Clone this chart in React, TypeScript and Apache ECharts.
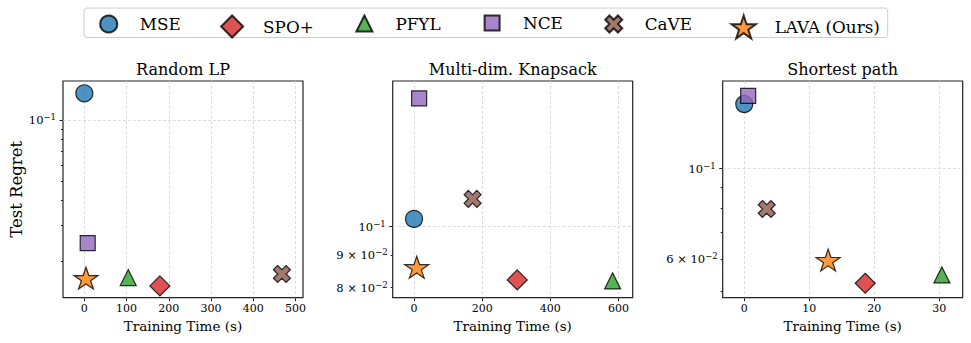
import React, { useEffect, useRef } from 'react';
import * as echarts from 'echarts';

// ---------- data ----------
const methods = ['MSE', 'SPO+', 'PFYL', 'NCE', 'CaVE', 'LAVA (Ours)'];
const panelTitles = ['Random LP', 'Multi-dim. Knapsack', 'Shortest path'];

const randomLpTime = [0, 179, 104, 8, 468, 4];
const randomLpRegret = [0.1358, 0.0151, 0.0166, 0.0246, 0.0173, 0.0165];

const knapsackTime = [0, 303, 583, 15, 172, 8];
const knapsackRegret = [0.1029, 0.0823, 0.082, 0.16, 0.1107, 0.0862];

const shortestPathTime = [0, 18.6, 30.4, 0.6, 3.45, 12.9];
const shortestPathRegret = [0.1438, 0.0524, 0.0549, 0.1505, 0.0796, 0.0597];

const randomLpXTicks = [0, 100, 200, 300, 400, 500];
const knapsackXTicks = [0, 200, 400, 600];
const shortestPathXTicks = [0, 10, 20, 30];

const randomLpXRange = [-50.5, 518];
const knapsackXRange = [-62.6, 642];
const shortestPathXRange = [-3.32, 33.6];

const randomLpYRange = [0.0132, 0.1563];
const knapsackYRange = [0.0771, 0.1705];
const shortestPathYRange = [0.0483, 0.1637];

const yMajorTicks = [0.1];
const randomLpYMinor = [0.02, 0.03, 0.04, 0.05, 0.06, 0.07, 0.08, 0.09];
const randomLpYMinorLabels: number[] = [];
const knapsackYMinor = [0.08, 0.09];
const knapsackYMinorLabels = [0.08, 0.09];
const shortestPathYMinor = [0.05, 0.06, 0.07, 0.08, 0.09];
const shortestPathYMinorLabels = [0.06];

// ---------- style / layout ----------
const FONT = 'DejaVu Serif';
const colors = ['#1f77b4', '#d62728', '#2ca02c', '#9467bd', '#8c564b', '#ff7f0e'];
const DIAMOND_PATH = 'path://M0 -1L1 0L0 1L-1 0Z';
const TRIANGLE_PATH = 'path://M0 -1L1 1L-1 1Z';
const SQUARE_PATH = 'path://M-1 -1L1 -1L1 1L-1 1Z';
const X_PATH = 'path://M-1 -2L0 -1L1 -2L2 -1L1 0L2 1L1 2L0 1L-1 2L-2 1L-1 0L-2 -1Z';
const STAR_PATH =
  'path://M0 -100L22.45 -30.9L95.1 -30.9L36.33 11.8L58.8 80.9L0 38.2L-58.8 80.9L-36.33 11.8L-95.1 -30.9L-22.45 -30.9Z';
const symbols = ['circle', DIAMOND_PATH, TRIANGLE_PATH, SQUARE_PATH, X_PATH, STAR_PATH];
const symbolSizes: any[] = [17, 20, 16, 15, 17, [24, 23]];
const legendIconSizes = [17, 22, 16, 15, 17, 23];
const legendIconWidths = [17, 22, 16, 15, 17, 24.2];
const legendCenters = [108.3, 231.7, 364, 491.7, 613.3, 743.3];
const LEGEND_CY = 23;

const gridLefts = [63, 392.7, 722.7];
const GRID_TOP = 81;
const GRID_W = 240;
const GRID_H = 216.7;

const fmtLog = (v: number) => {
  const val = Math.pow(10, v);
  const e = Math.floor(Math.log10(val) + 1e-9);
  const m = Math.round(val / Math.pow(10, e));
  const exp = String(e).replace('-', '\u2212');
  return m === 1 ? `{a|10}{b|${exp}}` : `{a|${m} \u00D7 10}{b|${exp}}`;
};
const tickRich = {
  a: { fontFamily: FONT, fontSize: 11.5, color: '#000', lineHeight: 15 },
  b: { fontFamily: FONT, fontSize: 8.5, color: '#000', lineHeight: 9, verticalAlign: 'top' },
};

const panels = [
  { time: randomLpTime, regret: randomLpRegret, xTicks: randomLpXTicks, xRange: randomLpXRange, yRange: randomLpYRange, minor: randomLpYMinor, minorLabels: randomLpYMinorLabels },
  { time: knapsackTime, regret: knapsackRegret, xTicks: knapsackXTicks, xRange: knapsackXRange, yRange: knapsackYRange, minor: knapsackYMinor, minorLabels: knapsackYMinorLabels },
  { time: shortestPathTime, regret: shortestPathRegret, xTicks: shortestPathXTicks, xRange: shortestPathXRange, yRange: shortestPathYRange, minor: shortestPathYMinor, minorLabels: shortestPathYMinorLabels },
];

function buildOption() {
  const L = Math.log10;
  const grid: any[] = [];
  const xAxis: any[] = [];
  const yAxis: any[] = [];
  const series: any[] = [];
  const graphic: any[] = [];
  const tickLine = { color: '#222', width: 1 };
  const gridLine = { color: '#d4d4d4', width: 0.8, type: [3, 2] };
  const labelStyle = { fontFamily: FONT, fontSize: 11, color: '#000' };

  panels.forEach((p, i) => {
    grid.push({
      left: gridLefts[i], top: GRID_TOP, width: GRID_W, height: GRID_H,
      show: true, borderColor: '#222', borderWidth: 1.2, backgroundColor: 'transparent',
    });
    xAxis.push({
      type: 'value', gridIndex: i, min: p.xRange[0], max: p.xRange[1],
      axisLine: { show: false },
      axisTick: { show: true, length: 3.5, lineStyle: tickLine, customValues: p.xTicks },
      axisLabel: { ...labelStyle, margin: 5, customValues: p.xTicks },
      splitLine: { show: true, lineStyle: gridLine },
      name: 'Training Time (s)', nameLocation: 'middle', nameGap: 20,
      nameTextStyle: { fontFamily: FONT, fontSize: 13.5, color: '#000' },
    });
    // data axis (log scale)
    yAxis.push({
      type: 'log', logBase: 10, gridIndex: i, min: p.yRange[0], max: p.yRange[1], show: false,
      splitLine: { show: false },
    });
    // major ticks
    yAxis.push({
      type: 'value', gridIndex: i, position: 'left', min: L(p.yRange[0]), max: L(p.yRange[1]),
      axisLine: { show: false },
      axisTick: { show: true, length: 3.5, lineStyle: tickLine, customValues: yMajorTicks.map(L) },
      axisLabel: { margin: 7, customValues: yMajorTicks.map(L), formatter: fmtLog, rich: tickRich },
      splitLine: { show: true, lineStyle: gridLine },
      ...(i === 0
        ? {
            name: 'Test Regret', nameLocation: 'middle', nameGap: 38,
            nameTextStyle: { fontFamily: FONT, fontSize: 16.5, color: '#000' },
          }
        : {}),
    });
    // minor ticks
    yAxis.push({
      type: 'value', gridIndex: i, position: 'left', min: L(p.yRange[0]), max: L(p.yRange[1]),
      axisLine: { show: false },
      axisTick: { show: true, length: 2, lineStyle: tickLine, customValues: p.minor.map(L) },
      axisLabel: p.minorLabels.length
        ? { margin: 5, customValues: p.minorLabels.map(L), formatter: fmtLog, rich: tickRich }
        : { show: false },
      splitLine: { show: false },
    });
    methods.forEach((m, k) => {
      series.push({
        type: 'scatter', name: m, xAxisIndex: i, yAxisIndex: i * 3,
        data: [[p.time[k], p.regret[k]]],
        symbol: symbols[k], symbolSize: symbolSizes[k], symbolKeepAspect: true,
        itemStyle: { color: colors[k], borderColor: '#000', borderWidth: 1.2, opacity: 0.8 },
        emphasis: { disabled: true },
        z: 3,
      });
    });
    graphic.push({
      type: 'text', x: gridLefts[i] + GRID_W / 2, y: 69,
      style: { text: panelTitles[i], fontFamily: FONT, fontSize: 16, fill: '#000', textAlign: 'center', textVerticalAlign: 'middle' },
    });
  });

  graphic.push({
    type: 'rect', z: -1, shape: { x: 84, y: 8, width: 803.7, height: 29.5, r: 3 },
    style: { fill: '#fff', stroke: '#cccccc', lineWidth: 1 },
  });

  const legend = methods.map((m, k) => ({
    data: [m],
    left: legendCenters[k] - legendIconWidths[k] / 2 - 0.6,
    top: LEGEND_CY - 8.5,
    padding: 0,
    itemWidth: 52,
    itemHeight: legendIconSizes[k],
    symbolKeepAspect: true,
    textStyle: { fontFamily: FONT, fontSize: 16.8, color: '#000', lineHeight: 17 },
    selectedMode: false,
  }));

  return {
    animation: false,
    backgroundColor: '#fff',
    grid, xAxis, yAxis, series, graphic, legend,
  };
}

export default function App() {
  const ref = useRef<HTMLDivElement>(null);
  useEffect(() => {
    if (!ref.current) return;
    const chart = echarts.init(ref.current, null, { renderer: 'svg' });
    chart.setOption(buildOption() as any);
    return () => chart.dispose();
  }, []);
  return (
    <div
      ref={ref}
      style={{ position: 'fixed', left: 0, top: 0, width: 971, height: 343, background: '#fff' }}
    />
  );
}
